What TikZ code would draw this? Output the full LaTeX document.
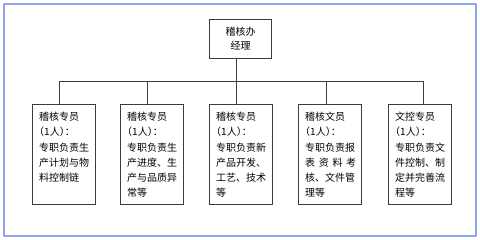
\documentclass[tikz,border=0pt]{standalone}
\usepackage{fontspec}
\setmainfont{Noto Sans CJK SC}
\newfontfamily\cjkhalt{Noto Sans CJK SC}[RawFeature=+halt]
\definecolor{framecol}{RGB}{140,165,245}
\definecolor{linecol}{RGB}{60,60,60}
\begin{document}
\begin{tikzpicture}[x=1pt,y=-1pt,
  frame/.style={draw=framecol,line width=1.8pt},
  topbox/.style={draw=linecol,line width=0.8pt,minimum width=62pt,minimum height=39pt,inner sep=0pt,align=center,font=\fontsize{10pt}{13.5pt}\selectfont},
  staffbox/.style={draw=linecol,line width=0.8pt,minimum width=62.5pt,minimum height=100pt,inner sep=0pt,anchor=north west},
  txt/.style={inner sep=0pt,text width=50pt,align=left,anchor=north west,font=\fontsize{10pt}{15.2pt}\selectfont},
  conn/.style={draw=linecol,line width=0.8pt}]
\useasboundingbox (0,0) rectangle (480,240);
\draw[frame] (4.3,4.3) rectangle (476,236);
\node[topbox] (mgr) at (240.5,38.5) {稽核办\\经理};
\node[staffbox] (b1) at (32,104) {};
\node[staffbox] (b2) at (120,104) {};
\node[staffbox] (b3) at (209,104) {};
\node[staffbox] (b4) at (298,104) {};
\node[staffbox] (b5) at (388,104) {};
\node[txt] (t1) at ([xshift=7pt,yshift=-8pt]b1.north west) {稽核专员\\{\cjkhalt （1人）：}\\专职负责生\\产计划与物\\料控制链};
\node[txt] (t2) at ([xshift=7pt,yshift=-8pt]b2.north west) {稽核专员\\{\cjkhalt （1人）：}\\专职负责生\\产进度、生\\产与品质异\\常等};
\node[txt] (t3) at ([xshift=7pt,yshift=-8pt]b3.north west) {稽核专员\\{\cjkhalt （1人）：}\\专职负责新\\产品开发、\\工艺、技术\\等};
\node[txt] (t4) at ([xshift=7pt,yshift=-8pt]b4.north west) {稽核文员\\{\cjkhalt （1人）：}\\专职负责报\\\makebox[51pt][s]{表\hfill 资\hfill 料\hfill 考}\\核、文件管\\理等};
\node[txt] (t5) at ([xshift=7pt,yshift=-8pt]b5.north west) {文控专员\\{\cjkhalt （1人）：}\\专职负责文\\件控制、制\\定并完善流\\程等};
\coordinate (bus) at (0,81);
\draw[conn] ([xshift=-4.5pt]mgr.south) -- ([xshift=-4.5pt]mgr.south |- bus);
\draw[conn] ([xshift=-4pt]b1.north) |- ([xshift=4pt]b5.north |- bus) -- ([xshift=4pt]b5.north);
\draw[conn] ([xshift=-4.5pt]b2.north) -- ([xshift=-4.5pt]b2.north |- bus);
\draw[conn] ([xshift=-4.5pt]b3.north) -- ([xshift=-4.5pt]b3.north |- bus);
\draw[conn] ([xshift=-3.5pt]b4.north) -- ([xshift=-3.5pt]b4.north |- bus);
\end{tikzpicture}
\end{document}
